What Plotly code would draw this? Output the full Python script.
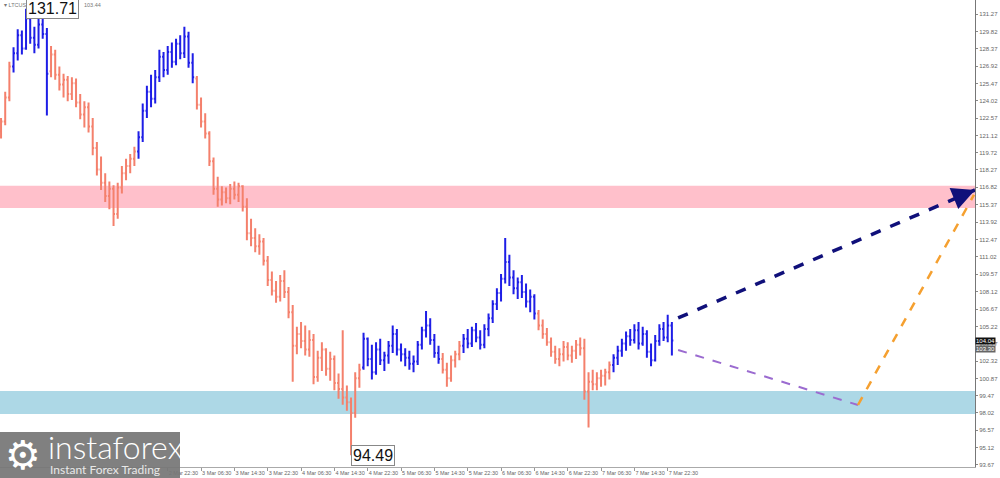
import pandas as pd
import plotly.graph_objects as go

# ---------------- data ----------------
first_bar = "2022-03-01 06:30"   # hourly bars (H1)

opens = [121.5, 122.3, 124.3, 126.9, 128.0, 129.5, 128.4, 130.9, 129.3, 128.7,
         130.4, 129.6, 126.5, 127.9, 126.2, 125.4, 125.8, 124.6, 125.5, 123.9,
         122.9, 123.5, 121.9, 120.1, 118.3, 117.2, 116.1, 116.7, 114.6, 116.8,
         118.0, 118.6, 119.2, 119.8, 121.0, 123.2, 124.8, 124.2, 126.0, 127.7,
         126.6, 128.1, 127.3, 128.8, 128.0, 129.4, 127.2, 125.9, 123.7, 122.3,
         121.3, 119.0, 116.7, 115.8, 116.4, 115.9, 116.7, 116.2, 116.9, 115.2,
         113.0, 112.6, 111.9, 112.3, 110.7, 109.1, 108.2, 107.7, 109.0, 108.1,
         106.4, 103.6, 104.6, 104.0, 103.3, 104.1, 101.0, 102.6, 103.3, 101.7,
         102.5, 100.5, 100.0, 99.3, 98.9, 98.0, 100.9, 101.8, 104.2, 102.5,
         101.4, 103.3, 102.4, 102.8, 103.6, 104.6, 103.3, 102.9, 102.6, 102.1,
         102.3, 103.7, 104.9, 105.3, 104.1, 103.0, 102.5, 101.6, 100.9, 102.4,
         102.9, 103.6, 104.2, 103.8, 104.9, 104.3, 103.7, 105.0, 105.9, 107.1,
         108.0, 109.2, 110.6, 109.3, 108.4, 108.9, 108.1, 107.3, 107.7, 106.3,
         105.3, 104.6, 103.9, 103.1, 102.5, 102.9, 103.5, 102.8, 103.2, 103.7,
         103.4, 99.8, 100.6, 100.4, 100.9, 101.1, 101.4, 102.0, 102.6, 103.2,
         103.8, 104.4, 104.1, 104.9, 103.8, 104.6, 103.1, 102.4, 104.0, 105.0,
         104.3, 105.3]
highs = [122.6, 124.8, 127.3, 128.5, 130.0, 129.9, 131.71, 131.2, 130.2, 130.9,
         131.2, 130.1, 128.6, 128.3, 126.9, 126.3, 126.1, 126.0, 125.9, 124.6,
         124.0, 123.9, 122.6, 120.6, 119.4, 118.0, 117.3, 117.0, 117.2, 118.6,
         119.2, 119.6, 120.2, 121.5, 123.8, 125.3, 126.2, 126.6, 128.3, 128.1,
         128.6, 128.9, 129.2, 129.5, 130.2, 129.8, 128.0, 126.1, 124.3, 123.0,
         121.5, 119.3, 117.7, 116.9, 116.8, 117.1, 117.3, 117.2, 117.0, 115.9,
         114.2, 113.4, 112.9, 112.6, 111.1, 109.8, 109.0, 109.5, 109.9, 108.5,
         107.0, 105.2, 105.6, 105.3, 104.9, 104.6, 103.2, 103.9, 103.4, 103.1,
         102.8, 101.3, 104.9, 100.3, 99.3, 101.4, 102.1, 104.7, 104.3, 103.7,
         103.9, 104.2, 103.1, 104.0, 105.3, 105.0, 103.8, 103.4, 103.2, 102.8,
         104.0, 105.2, 106.5, 105.9, 104.6, 103.6, 103.0, 102.2, 102.8, 103.2,
         104.0, 104.6, 105.0, 105.2, 105.5, 104.9, 105.4, 106.3, 107.4, 108.4,
         109.6, 112.6, 111.2, 109.9, 109.3, 109.5, 108.8, 108.3, 107.9, 106.6,
         105.8, 105.1, 104.3, 103.6, 103.4, 104.0, 103.9, 103.6, 104.1, 104.3,
         104.2, 101.4, 101.6, 101.4, 101.6, 101.7, 102.3, 102.9, 103.6, 104.2,
         104.8, 105.0, 105.4, 105.6, 105.2, 104.9, 103.8, 104.5, 105.4, 105.6,
         106.2, 105.6]
lows = [120.9, 122.0, 124.0, 126.4, 127.4, 127.9, 128.3, 128.8, 128.0, 128.4,
        129.2, 122.8, 126.0, 125.8, 124.9, 124.3, 124.0, 124.1, 123.5, 122.5,
        121.8, 121.4, 119.5, 117.8, 116.6, 115.6, 115.0, 113.6, 114.2, 116.3,
        117.4, 118.0, 118.6, 119.2, 120.6, 122.6, 123.5, 123.8, 125.6, 126.0,
        126.2, 126.8, 127.0, 127.5, 127.6, 126.8, 125.5, 123.3, 121.8, 120.9,
        118.6, 116.2, 115.2, 115.3, 115.5, 115.4, 115.8, 115.6, 114.8, 112.4,
        111.9, 111.4, 111.2, 110.3, 108.6, 107.8, 107.2, 107.3, 107.6, 105.9,
        100.6, 102.9, 103.4, 102.8, 102.7, 100.4, 100.6, 101.5, 101.1, 100.7,
        99.9, 99.2, 98.7, 98.2, 94.49, 97.6, 100.1, 101.6, 101.9, 100.8,
        101.2, 102.0, 101.5, 102.1, 103.0, 102.8, 102.3, 101.9, 101.6, 101.4,
        102.0, 103.3, 104.3, 103.7, 102.6, 102.1, 101.3, 100.2, 100.6, 101.8,
        102.4, 103.0, 103.4, 103.5, 103.9, 103.3, 103.4, 104.4, 105.5, 106.6,
        107.3, 108.8, 108.6, 107.9, 107.5, 107.6, 106.8, 106.4, 105.8, 104.9,
        104.2, 103.6, 102.7, 102.1, 101.9, 102.3, 102.4, 102.2, 102.5, 102.8,
        99.1, 96.8, 99.9, 99.9, 100.2, 100.3, 100.8, 101.4, 102.0, 102.7,
        103.2, 103.6, 103.8, 103.3, 103.6, 102.6, 101.9, 102.3, 103.6, 104.0,
        103.9, 102.8]
closes = [122.3, 124.3, 126.9, 128.0, 129.5, 128.4, 130.9, 129.3, 128.7, 130.4,
          129.6, 126.3, 127.9, 126.2, 125.4, 125.8, 124.6, 125.5, 123.9, 122.9,
          123.5, 121.9, 120.1, 118.3, 117.2, 116.1, 116.7, 114.6, 116.8, 118.0,
          118.6, 119.2, 119.8, 121.0, 123.2, 124.8, 124.2, 126.0, 127.7, 126.6,
          128.1, 127.3, 128.8, 128.0, 129.4, 127.2, 126.0, 123.7, 122.3, 121.3,
          119.0, 116.7, 115.8, 116.4, 115.9, 116.7, 116.2, 116.9, 115.2, 113.0,
          112.6, 111.9, 112.3, 110.7, 109.1, 108.2, 107.7, 109.0, 108.1, 106.4,
          103.6, 104.6, 104.0, 103.3, 104.1, 101.0, 102.6, 103.3, 101.7, 102.5,
          100.5, 100.0, 99.3, 98.9, 98.0, 100.9, 101.6, 104.2, 102.5, 101.4,
          103.3, 102.4, 102.8, 103.6, 104.6, 103.3, 102.9, 102.6, 102.1, 102.3,
          103.7, 104.9, 105.3, 104.1, 103.0, 102.5, 101.6, 100.9, 102.4, 102.9,
          103.6, 104.2, 103.8, 104.9, 104.3, 103.7, 105.0, 105.9, 107.1, 108.0,
          109.2, 110.6, 109.3, 108.4, 108.9, 108.1, 107.3, 107.7, 106.3, 105.3,
          104.6, 103.9, 103.1, 102.5, 102.9, 103.5, 102.8, 103.2, 103.7, 103.4,
          99.8, 100.6, 100.4, 100.9, 101.1, 101.4, 102.0, 102.6, 103.2, 103.8,
          104.4, 104.1, 104.9, 103.8, 104.6, 103.1, 102.4, 104.0, 105.0, 104.3,
          105.3, 104.04]

# zigzag wave segments (first bar index, last bar index, direction)
waves = [(0, 2, "down"), (3, 11, "up"), (12, 32, "down"), (33, 46, "up"),
         (47, 86, "down"), (87, 105, "up"), (106, 110, "down"), (111, 128, "up"),
         (129, 146, "down"), (147, 161, "up")]

# support / resistance zones (price ranges)
resistance_zone = [115.10, 116.95]
support_zone = [97.91, 99.84]

# forecast paths (time, price)
bull_path = [("2022-03-08 01:00", 105.93), ("2022-03-11 00:15", 116.60)]
bear_path = [("2022-03-08 01:00", 103.26), ("2022-03-09 20:10", 98.67)]
rebound_path = [("2022-03-09 20:10", 98.67), ("2022-03-11 00:00", 116.20)]

extreme_high = (6, "131.71")
extreme_low = (84, "94.49")
last_price = 104.04
ask_price = 103.30
info_left = "▾ LTCUSD"
info_right = "103.44"

# time labels visible to the right of the logo
x_labels = ["2 Mar 22:30", "3 Mar 06:30", "3 Mar 14:30", "3 Mar 22:30", "4 Mar 06:30",
            "4 Mar 14:30", "4 Mar 22:30", "5 Mar 06:30", "5 Mar 14:30", "5 Mar 22:30",
            "6 Mar 06:30", "6 Mar 14:30", "6 Mar 22:30", "7 Mar 06:30", "7 Mar 14:30",
            "7 Mar 22:30"]
y_ticks = [131.27, 129.82, 128.37, 126.92, 125.47, 124.02, 122.57, 121.12, 119.72,
           118.27, 116.82, 115.37, 113.92, 112.47, 111.02, 109.57, 108.12, 106.67,
           105.22, 103.77, 102.32, 100.87, 99.47, 98.02, 96.57, 95.12, 93.67]

x_range = ["2022-03-01 06:15", "2022-03-11 00:15"]
y_range = [93.50, 132.44]

# ---------------- figure ----------------
times = pd.date_range(first_bar, periods=len(opens), freq="h")
direction = [None] * len(opens)
for a, b, d in waves:
    for k in range(a, b + 1):
        direction[k] = d

SALMON = "#F4806C"
BLUE = "#1E1EE6"

fig = go.Figure()
for d, col in (("down", SALMON), ("up", BLUE)):
    idx = [k for k in range(len(opens)) if direction[k] == d]
    fig.add_trace(go.Ohlc(
        x=[times[k] for k in idx],
        open=[opens[k] for k in idx], high=[highs[k] for k in idx],
        low=[lows[k] for k in idx], close=[closes[k] for k in idx],
        increasing=dict(line=dict(color=col, width=2)),
        decreasing=dict(line=dict(color=col, width=2)),
        tickwidth=0.35, hoverinfo="skip", showlegend=False))

PH = 467.0   # plot height in px
PW = 975.0   # plot width in px

shapes = [
    dict(type="rect", xref="paper", x0=0, x1=1, yref="y",
         y0=resistance_zone[0], y1=resistance_zone[1],
         fillcolor="#FFC0CB", line=dict(width=0), layer="below"),
    dict(type="rect", xref="paper", x0=0, x1=1, yref="y",
         y0=support_zone[0], y1=support_zone[1],
         fillcolor="#ADD8E6", line=dict(width=0), layer="below"),
    dict(type="line", xref="x", yref="y",
         x0=bear_path[0][0], y0=bear_path[0][1], x1=bear_path[1][0], y1=bear_path[1][1],
         line=dict(color="#9B6BD0", width=2, dash="dash")),
    dict(type="line", xref="x", yref="y",
         x0=rebound_path[0][0], y0=rebound_path[0][1], x1=rebound_path[1][0], y1=rebound_path[1][1],
         line=dict(color="#F5A030", width=2.5, dash="dash")),
    dict(type="line", xref="x", yref="y",
         x0=bull_path[0][0], y0=bull_path[0][1], x1=bull_path[1][0], y1=bull_path[1][1],
         line=dict(color="#10107A", width=3.5, dash="dash")),
    # logo box
    dict(type="rect", xref="paper", yref="paper", x0=0, x1=180 / PW,
         y0=-11 / PH, y1=35 / PH, fillcolor="rgba(118,118,118,0.93)",
         line=dict(width=0), layer="above"),
]

annotations = [
    dict(xref="paper", yref="paper", x=2 / PW, y=1.0, xanchor="left", yanchor="top",
         text=info_left, showarrow=False,
         font=dict(family="Liberation Sans", size=5.5, color="#777")),
    dict(xref="paper", yref="paper", x=82 / PW, y=1.0, xanchor="left", yanchor="top",
         text=info_right, showarrow=False,
         font=dict(family="Liberation Sans", size=5.5, color="#777")),
    dict(x=times[extreme_high[0]], y=highs[extreme_high[0]], xanchor="left", yanchor="middle",
         text=extreme_high[1], showarrow=False, bgcolor="white", bordercolor="#888",
         borderwidth=1, borderpad=1, font=dict(family="Liberation Sans", size=16, color="#111")),
    dict(x=times[extreme_low[0]], y=lows[extreme_low[0]], xanchor="left", yanchor="middle",
         text=extreme_low[1], showarrow=False, bgcolor="white", bordercolor="#888",
         borderwidth=1, borderpad=1, font=dict(family="Liberation Sans", size=16, color="#111")),
    # arrow head for bull path
    dict(x=bull_path[1][0], y=bull_path[1][1], ax=-22, ay=9, axref="pixel", ayref="pixel",
         showarrow=True, arrowhead=2, arrowsize=1.3, arrowwidth=3.5, arrowcolor="#10107A", text=""),
    # current price boxes
    dict(xref="paper", yref="y", x=1.0, y=last_price, xanchor="left", yanchor="middle",
         text=f"{last_price:.2f}", showarrow=False, bgcolor="#111", borderpad=0,
         font=dict(family="Liberation Sans", size=6, color="white")),
    dict(xref="paper", yref="y", x=1.0, y=ask_price, xanchor="left", yanchor="middle",
         text=f"{ask_price:.2f}", showarrow=False, bgcolor="#666", borderpad=0,
         font=dict(family="Liberation Sans", size=6, color="white")),
    # logo
    dict(xref="paper", yref="paper", x=3 / PW, y=12 / PH, xanchor="left", yanchor="middle",
         text="⚙", showarrow=False, font=dict(family="DejaVu Sans", size=40, color="white")),
    dict(xref="paper", yref="paper", x=46 / PW, y=(PH - 446) / PH, xanchor="left", yanchor="middle",
         text="instaforex", showarrow=False,
         font=dict(family="Lato", size=32, color="white", weight=300)),
    dict(xref="paper", yref="paper", x=48 / PW, y=(PH - 469) / PH, xanchor="left", yanchor="middle",
         text="Instant Forex Trading", showarrow=False,
         font=dict(family="Lato", size=12, color="#e8e8e8")),
]

label_times = [pd.to_datetime("2022 " + s, format="%Y %d %b %H:%M") for s in x_labels]

fig.update_layout(
    width=1000, height=478,
    margin=dict(l=0, r=25, t=0, b=11),
    plot_bgcolor="white", paper_bgcolor="white",
    showlegend=False, shapes=shapes, annotations=annotations,
    xaxis=dict(type="date", range=x_range, tickvals=label_times, ticktext=x_labels,
               ticks="outside", ticklen=3, tickcolor="#999", ticklabelposition="outside right",
               tickangle=0, automargin=False,
               tickfont=dict(family="Liberation Sans", size=5.5, color="#666"),
               showgrid=False, zeroline=False, showline=True, linecolor="#aaa",
               mirror=True, rangeslider=dict(visible=False), fixedrange=True),
    yaxis=dict(side="right", range=y_range, tickvals=y_ticks,
               ticktext=[f"{v:.2f}" for v in y_ticks], automargin=False,
               ticks="outside", ticklen=2, tickcolor="#888",
               tickfont=dict(family="Liberation Sans", size=6, color="#666"),
               showgrid=False, zeroline=False, showline=True, linecolor="#777"),
)

fig.write_html("out.html", config={"displayModeBar": False},
               post_script="document.body.style.margin='0';document.body.style.overflow='hidden';")
